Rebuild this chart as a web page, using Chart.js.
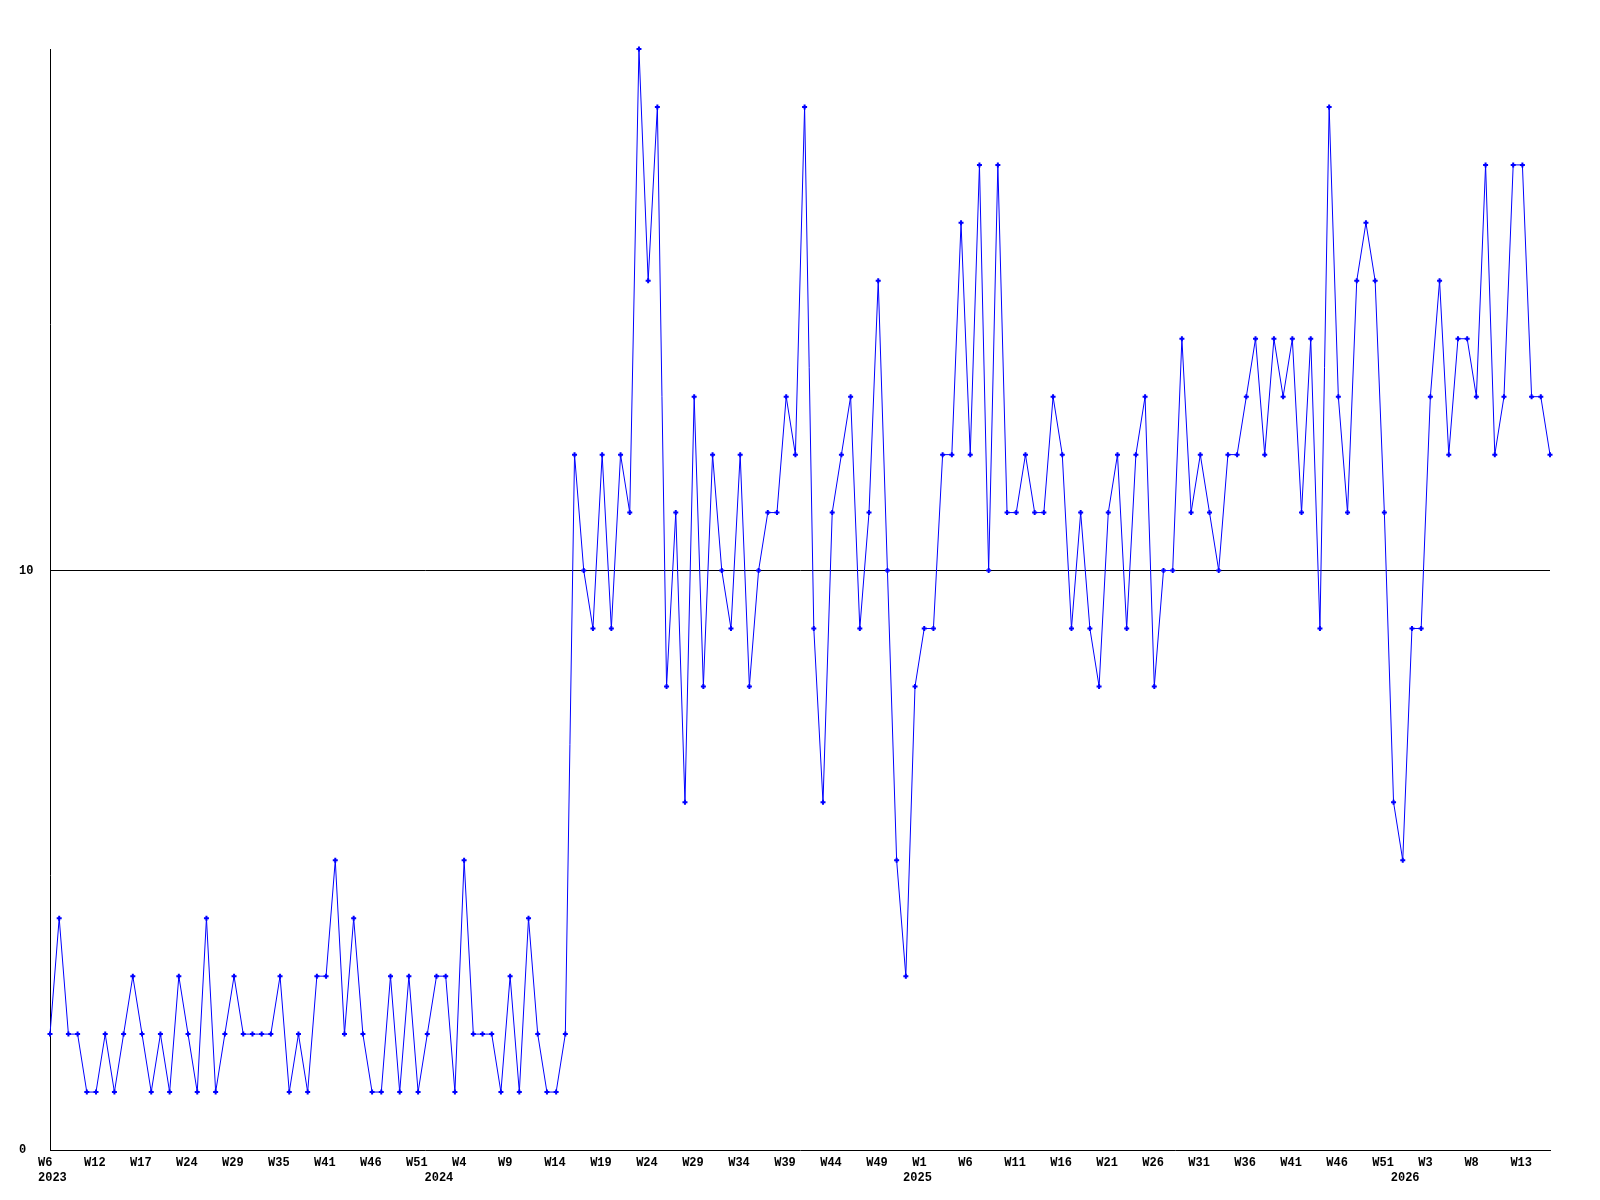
<!DOCTYPE html>
<html>
<head>
<meta charset="utf-8">
<script src="https://cdn.jsdelivr.net/npm/chart.js@4/dist/chart.umd.min.js"></script>
<style>
html,body{margin:0;padding:0;background:#fff;}
#wrap{width:1600px;height:1200px;}
</style>
</head>
<body>
<div id="wrap"><canvas id="c" width="1600" height="1200"></canvas></div>
<script>
// ---- data ----
const weekLabels = ['W6','W12','W17','W24','W29','W35','W41','W46','W51',
  'W4','W9','W14','W19','W24','W29','W34','W39','W44','W49',
  'W1','W6','W11','W16','W21','W26','W31','W36','W41','W46','W51',
  'W3','W8','W13'];
const yearLabels = ['2023','2024','2025','2026'];
const yearStartIndex = [0, 42, 94, 147];
const values = [
  2,4,2,2,1,1,2,1,2,3, 2,1,2,1,3,2,1,4,1,2, 3,2,2,2,2,3,1,2,1,3,
  3,5,2,4,2,1,1,3,1,3, 1,2,3,3,1,5,2,2,2,1, 3,1,4,2,1,1,2,
  12,10,9,12,9,12,11,19,15,18, 8,11,6,13,8,12,10,9,12,8,
  10,11,11,13,12,18,9,6,11,12, 13,9,11,15,10,5,3,8,9,9,
  12,12,16,12,17,10,17,11,11,12, 11,11,13,12,9,11,9,8,11,12,
  9,12,13,8,10,10,14,11,12,11, 10,12,12,13,14,12,14,13,14,
  11,14,9,18,13,11,15,16,15,11, 6,5,9,9,13,15,12,14,14,13,
  17,12,13,17,17,13,13,12
];
const yTickValues = [0, 10];
const labelStep = 5;

// ---- presentation ----
const font = {family: "'Liberation Mono', 'DejaVu Sans Mono', monospace", size: 12, weight: 'bold'};
const pxPerIndex = 1500 / (values.length - 1);
const labelShift = 12 / pxPerIndex;

new Chart(document.getElementById('c'), {
  type: 'line',
  data: {
    datasets: [{
      data: values.map((v, i) => ({x: i, y: v})),
      borderColor: '#0000ff',
      backgroundColor: '#0000ff',
      borderWidth: 1,
      tension: 0,
      fill: false,
      pointStyle: 'cross',
      pointRadius: 2.5,
      pointBorderWidth: 2,
      pointBorderColor: '#0000ff',
      pointBackgroundColor: '#0000ff',
      clip: false
    }]
  },
  options: {
    responsive: false,
    animation: false,
    devicePixelRatio: 1,
    layout: {padding: {left: 19, right: 50, top: 49, bottom: 11}},
    plugins: {legend: {display: false}, tooltip: {enabled: false}},
    scales: {
      x: {
        type: 'linear', position: 'bottom', weight: 0,
        min: 0, max: values.length - 1,
        afterBuildTicks: s => { s.ticks = weekLabels.map((t, i) => ({value: i * labelStep - labelShift})); },
        afterFit: s => { s.height = 19; },
        grid: {display: false, drawTicks: false},
        border: {display: true, color: '#000', width: 1},
        ticks: {
          autoSkip: false, maxRotation: 0, minRotation: 0, align: 'start',
          padding: 6, color: '#000', font: font,
          callback: (v, i) => weekLabels[i]
        }
      },
      x2: {
        type: 'linear', position: 'bottom', weight: 1,
        min: 0, max: values.length - 1,
        afterBuildTicks: s => { s.ticks = yearStartIndex.map(v => ({value: v - labelShift})); },
        afterFit: s => { s.height = 20; },
        grid: {display: false, drawTicks: false},
        border: {display: false},
        ticks: {
          autoSkip: false, maxRotation: 0, minRotation: 0, align: 'start',
          padding: 2, color: '#000', font: font,
          callback: (v, i) => yearLabels[i]
        }
      },
      y: {
        type: 'linear', position: 'left',
        min: 0, max: 19,
        afterBuildTicks: s => { s.ticks = yTickValues.map(v => ({value: v})); },
        afterFit: s => { s.width = 31; },
        grid: {
          drawTicks: false, lineWidth: 1,
          color: c => (c.tick && c.tick.value === 10) ? '#000' : 'rgba(0,0,0,0)'
        },
        border: {display: true, color: '#000', width: 1},
        ticks: {crossAlign: 'far', padding: 0, color: '#000', font: font, autoSkip: false}
      }
    }
  }
});
</script>
</body>
</html>
